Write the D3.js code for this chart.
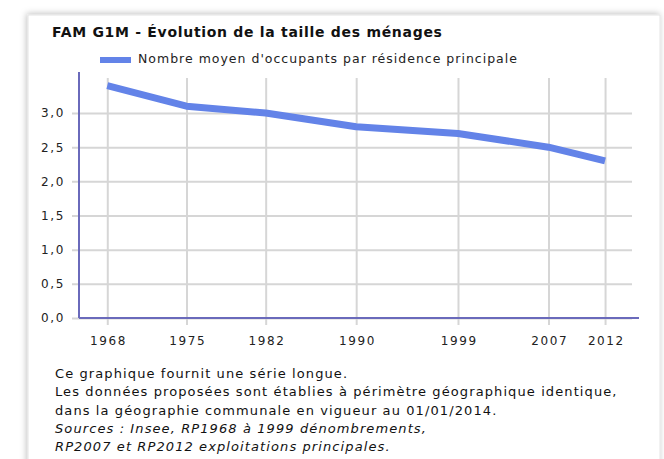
<!DOCTYPE html>
<html>
<head>
<meta charset="utf-8">
<script src="https://cdn.jsdelivr.net/npm/d3@7"></script>
<style>
  body { margin: 0; background: #fff; }
  svg { display: block; font-family: "DejaVu Sans", Verdana, sans-serif; }
</style>
</head>
<body>
<svg id="chart" width="664" height="459"></svg>
<script>
const years = [1968, 1975, 1982, 1990, 1999, 2007, 2012]
const values = [3.4, 3.1, 3.0, 2.8, 2.7, 2.5, 2.3]
const yTicks = [0, 0.5, 1, 1.5, 2, 2.5, 3]
const title = "FAM G1M - Évolution de la taille des ménages"
const seriesName = "Nombre moyen d'occupants par résidence principale"
const notes = [
  "Ce graphique fournit une série longue.",
  "Les données proposées sont établies à périmètre géographique identique,",
  "dans la géographie communale en vigueur au 01/01/2014."
]
const sources = [
  "Sources : Insee, RP1968 à 1999 dénombrements,",
  "RP2007 et RP2012 exploitations principales."
]

const svg = d3.select('#chart')
const margin = {top: 72, right: 25, bottom: 141, left: 79}
const [width, height] = [664, 459]
const lineColor = "#6383e8"
const axisColor = "#6a6abb"
const gridColor = "#d6d6d6"
const tickFont = g => g.selectAll('text')
  .attr('font-family', '"DejaVu Sans", Verdana, sans-serif')
  .attr('font-size', 12).attr('letter-spacing', 1.6).attr('fill', '#222')

// card with soft shadow
const defs = svg.append('defs')
const f = defs.append('filter').attr('id', 'shadow')
  .attr('x', -0.05).attr('y', -0.05).attr('width', 1.1).attr('height', 1.1)
f.append('feDropShadow').attr('dx', -1).attr('dy', -1).attr('stdDeviation', 3)
  .attr('flood-color', '#000').attr('flood-opacity', 0.25)
svg.append('rect')
  .attr('x', 28).attr('y', 15).attr('width', 632).attr('height', 470)
  .attr('fill', '#fff').attr('stroke', '#e4e4e4')
  .attr('filter', 'url(#shadow)')

const x = d3.scaleLinear()
  .domain([1965.5, 2015])
  .range([margin.left, width - margin.right])
const y = d3.scaleLinear()
  .domain([0, 3.6])
  .range([height - margin.bottom, margin.top])

const fmt = d => d3.format('.1f')(d).replace('.', ',')

// horizontal grid
svg.append('g')
  .attr('transform', `translate(${margin.left - 7},0)`)
  .call(d3.axisLeft(y).tickValues(yTicks).tickSize(-(632 - margin.left + 7)).tickFormat(''))
  .call(g => g.select('.domain').remove())
  .call(g => g.selectAll('line').attr('stroke', gridColor).attr('stroke-width', 2))

// vertical grid
svg.append('g')
  .attr('transform', `translate(0,${y(0) + 7})`)
  .call(d3.axisBottom(x).tickValues(years).tickSize(-(y(0) + 7 - 78)).tickFormat(''))
  .call(g => g.select('.domain').remove())
  .call(g => g.selectAll('line').attr('stroke', gridColor).attr('stroke-width', 2))

// y labels
svg.append('g')
  .attr('transform', `translate(${margin.left - 7},0)`)
  .call(d3.axisLeft(y).tickValues(yTicks).tickSize(0).tickPadding(7).tickFormat(fmt))
  .call(g => g.select('.domain').remove())
  .call(tickFont)

// x labels
svg.append('g')
  .attr('transform', `translate(0,${y(0)})`)
  .call(d3.axisBottom(x).tickValues(years).tickSize(0).tickPadding(18).tickFormat(d3.format('d')))
  .call(g => g.select('.domain').remove())
  .call(tickFont)
  .call(g => g.selectAll('text').attr('dx', 0.8))

// axis lines
svg.append('line')
  .attr('x1', margin.left).attr('x2', margin.left)
  .attr('y1', margin.top).attr('y2', y(0))
  .attr('stroke', axisColor).attr('stroke-width', 2)
svg.append('line')
  .attr('x1', margin.left).attr('x2', x(2015))
  .attr('y1', y(0)).attr('y2', y(0))
  .attr('stroke', axisColor).attr('stroke-width', 2)

// series
const line = d3.line()
  .x((d, i) => x(years[i]))
  .y(d => y(d))
svg.append('path')
  .datum(values)
  .attr('d', line)
  .attr('fill', 'none')
  .attr('stroke', lineColor)
  .attr('stroke-width', 7)
  .attr('stroke-linejoin', 'round')

// title
svg.append('text')
  .attr('x', 52).attr('y', 37)
  .attr('font-size', 14).attr('font-weight', 'bold')
  .attr('letter-spacing', 0.7).attr('fill', '#111')
  .text(title)

// legend
svg.append('rect')
  .attr('x', 100).attr('y', 57).attr('width', 31).attr('height', 6)
  .attr('fill', lineColor)
svg.append('text')
  .attr('x', 138).attr('y', 63)
  .attr('font-size', 12.5).attr('letter-spacing', 1).attr('fill', '#222')
  .text(seriesName)

// footnote
const noteLines = notes.map(t => ({t, italic: false})).concat(sources.map(t => ({t, italic: true})))
svg.append('g').selectAll('text')
  .data(noteLines)
  .join('text')
    .attr('x', 55)
    .attr('y', (d, i) => 378 + i * 18.3)
    .attr('font-size', 13)
    .attr('letter-spacing', 1.1)
    .attr('font-style', d => d.italic ? 'italic' : 'normal')
    .attr('fill', '#111')
    .text(d => d.t)
</script>
</body>
</html>
